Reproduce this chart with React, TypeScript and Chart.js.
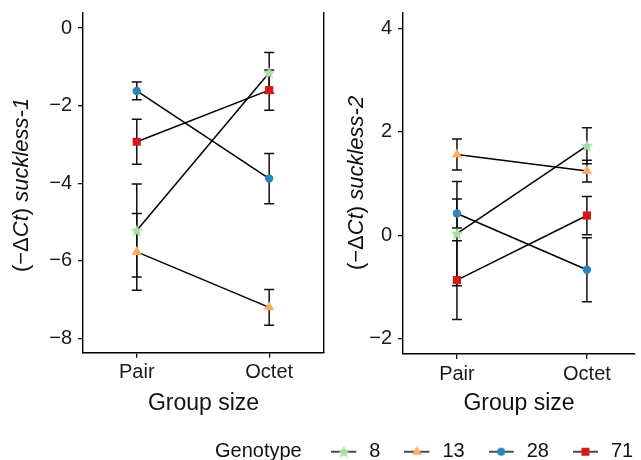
import React, { useEffect, useRef } from 'react';
import { Chart, registerables } from 'chart.js';

Chart.register(...registerables);

const FONT = "'Liberation Sans', Arial, Helvetica, sans-serif";

// ---------- data ----------
const groups = ['Pair', 'Octet'];
const genotypes = ['8', '13', '28', '71'];
const genotypeColors = ['#abdda4', '#fdae61', '#2b83ba', '#d7191c'];

// suckless-1 (means and error half-widths, Pair / Octet)
const s1Mean8 = [-5.22, -1.15];
const s1Err8 = [1.2, 0.52];
const s1Mean13 = [-5.77, -7.2];
const s1Err13 = [0.99, 0.46];
const s1Mean28 = [-1.62, -3.88];
const s1Err28 = [0.23, 0.65];
const s1Mean71 = [-2.93, -1.6];
const s1Err71 = [0.58, 0.52];

// suckless-2
const s2Mean8 = [0.03, 1.73];
const s2Err8 = [1.01, 0.35];
const s2Mean13 = [1.56, 1.24];
const s2Err13 = [0.3, 0.21];
const s2Mean28 = [0.42, -0.67];
const s2Err28 = [0.28, 0.62];
const s2Mean71 = [-0.87, 0.38];
const s2Err71 = [0.76, 0.37];

const yTicks1 = [-8, -6, -4, -2, 0];
const yTicks2 = [-2, 0, 2, 4];

const legendTitle = 'Genotype';

// ---------- marker helpers ----------
function starPath(ctx: CanvasRenderingContext2D, cx: number, cy: number, R: number, r: number) {
  ctx.beginPath();
  for (let k = 0; k < 10; k++) {
    const a = -Math.PI / 2 + (k * Math.PI) / 5;
    const rad = k % 2 === 0 ? R : r;
    const px = cx + Math.cos(a) * rad;
    const py = cy + Math.sin(a) * rad;
    if (k === 0) ctx.moveTo(px, py);
    else ctx.lineTo(px, py);
  }
  ctx.closePath();
}

function makeStarCanvas(color: string) {
  const c = document.createElement('canvas');
  c.width = 14;
  c.height = 14;
  const ctx = c.getContext('2d')!;
  ctx.fillStyle = color;
  starPath(ctx, 7, 7.4, 6.5, 3.0);
  ctx.fill();
  return c;
}

function drawShape(ctx: CanvasRenderingContext2D, shape: string, cx: number, cy: number, color: string, star: HTMLCanvasElement) {
  ctx.fillStyle = color;
  if (shape === 'star') {
    ctx.drawImage(star, cx - 7, cy - 7);
  } else if (shape === 'triangle') {
    const r = 5.8;
    ctx.beginPath();
    ctx.moveTo(cx, cy - r);
    ctx.lineTo(cx + r * Math.sin((2 * Math.PI) / 3), cy - r * Math.cos((2 * Math.PI) / 3));
    ctx.lineTo(cx + r * Math.sin((4 * Math.PI) / 3), cy - r * Math.cos((4 * Math.PI) / 3));
    ctx.closePath();
    ctx.fill();
  } else if (shape === 'circle') {
    ctx.beginPath();
    ctx.arc(cx, cy, 4, 0, Math.PI * 2);
    ctx.fill();
  } else {
    ctx.fillRect(cx - 4, cy - 4, 8, 8);
  }
}

const shapes = ['star', 'triangle', 'circle', 'rect'];
const radii = [6, 6, 4.2, 5.8];

function makeLegendSymbol(i: number, star: HTMLCanvasElement) {
  const c = document.createElement('canvas');
  c.width = 28;
  c.height = 16;
  const ctx = c.getContext('2d')!;
  ctx.strokeStyle = '#111';
  ctx.lineWidth = 1.5;
  ctx.beginPath();
  ctx.moveTo(0, 8);
  ctx.lineTo(25, 8);
  ctx.stroke();
  drawShape(ctx, shapes[i], 12.5, 8, genotypeColors[i], star);
  return c;
}

// ---------- plugins ----------
const errorBarPlugin = {
  id: 'errorBars',
  beforeDatasetsDraw(chart: any) {
    const { ctx } = chart;
    const x = chart.scales.x;
    const y = chart.scales.y;
    ctx.save();
    ctx.strokeStyle = '#111';
    ctx.lineWidth = 1.5;
    chart.data.datasets.forEach((ds: any) => {
      ds.data.forEach((pt: any, i: number) => {
        const e = ds.errors[i];
        const px = x.getPixelForValue(pt.x);
        const yt = y.getPixelForValue(pt.y + e);
        const yb = y.getPixelForValue(pt.y - e);
        ctx.beginPath();
        ctx.moveTo(px, yt);
        ctx.lineTo(px, yb);
        ctx.moveTo(px - 5, yt);
        ctx.lineTo(px + 5, yt);
        ctx.moveTo(px - 5, yb);
        ctx.lineTo(px + 5, yb);
        ctx.stroke();
      });
    });
    ctx.restore();
  },
};

const yTitlePlugin = {
  id: 'yTitle',
  afterDraw(chart: any, _args: any, opts: any) {
    const { ctx } = chart;
    const size = opts.size || 22;
    const segs: { t: string; it: boolean }[] = opts.segments || [];
    ctx.save();
    ctx.translate(opts.x, opts.y);
    ctx.rotate(-Math.PI / 2);
    ctx.fillStyle = '#111';
    ctx.textBaseline = 'middle';
    ctx.textAlign = 'left';
    let total = 0;
    const widths = segs.map((s) => {
      ctx.font = `${s.it ? 'italic ' : ''}${size}px ${FONT}`;
      const w = ctx.measureText(s.t).width;
      total += w;
      return w;
    });
    let cx = -total / 2;
    segs.forEach((s, i) => {
      ctx.font = `${s.it ? 'italic ' : ''}${size}px ${FONT}`;
      ctx.fillText(s.t, cx, 0);
      cx += widths[i];
    });
    ctx.restore();
  },
};

const fmt = (v: number) => (v < 0 ? '\u2212' + Math.abs(v) : String(v));

interface PanelSpec {
  left: number;
  width: number;
  height: number;
  yAxisWidth: number;
  padRight: number;
  padTop: number;
  xAxisHeight: number;
  rightBorder: boolean;
  xMin: number;
  xMax: number;
  yMin: number;
  yMax: number;
  yTicks: number[];
  means: number[][];
  errs: number[][];
  titleX: number;
  titleY: number;
  geneLabel: string;
}

const axisGrid = {
  display: true,
  drawOnChartArea: false,
  drawTicks: true,
  tickLength: 5,
  color: '#111',
  lineWidth: 1.3,
};
const axisBorder = { display: true, color: '#000', width: 1.4 };

function buildPanel(spec: PanelSpec, star: HTMLCanvasElement) {
  const datasets = genotypes.map((g, i) => ({
    label: g,
    data: groups.map((_, j) => ({ x: j + 1, y: spec.means[i][j] })),
    errors: spec.errs[i],
    borderColor: '#000',
    borderWidth: 1.5,
    pointStyle: shapes[i] === 'star' ? star : shapes[i],
    pointRadius: radii[i],
    pointBackgroundColor: genotypeColors[i],
    pointBorderColor: genotypeColors[i],
    pointBorderWidth: 0,
    fill: false,
    tension: 0,
  }));
  const scales: any = {
    x: {
      type: 'linear',
      position: 'bottom',
      min: spec.xMin,
      max: spec.xMax,
      afterBuildTicks: (s: any) => {
        s.ticks = groups.map((_, j) => ({ value: j + 1 }));
      },
      afterFit: (s: any) => {
        s.height = spec.xAxisHeight;
      },
      grid: axisGrid,
      border: axisBorder,
      ticks: {
        padding: 3,
        color: '#1a1a1a',
        font: { family: FONT, size: 20 },
        callback: (v: number) => groups[Math.round(v) - 1] ?? '',
        maxRotation: 0,
        autoSkip: false,
      },
      title: {
        display: true,
        text: 'Group size',
        color: '#111',
        font: { family: FONT, size: 23 },
        padding: { top: 0, bottom: 3 },
      },
    },
    y: {
      type: 'linear',
      position: 'left',
      min: spec.yMin,
      max: spec.yMax,
      afterBuildTicks: (s: any) => {
        s.ticks = spec.yTicks.map((v) => ({ value: v }));
      },
      afterFit: (s: any) => {
        s.width = spec.yAxisWidth;
      },
      grid: axisGrid,
      border: axisBorder,
      ticks: {
        padding: 6,
        color: '#1a1a1a',
        font: { family: FONT, size: 20, lineHeight: 0.7 },
        callback: (v: number) => fmt(v),
      },
    },
  };
  if (spec.rightBorder) {
    scales.yr = {
      type: 'linear',
      position: 'right',
      display: true,
      afterFit: (s: any) => {
        s.width = 0;
      },
      grid: { display: false },
      ticks: { display: false },
      border: axisBorder,
    };
  }
  return {
    type: 'line',
    data: { datasets },
    options: {
      animation: false,
      responsive: false,
      maintainAspectRatio: false,
      layout: { padding: { left: 0, right: spec.padRight, top: spec.padTop, bottom: 0 } },
      scales,
      plugins: {
        legend: { display: false },
        tooltip: { enabled: false },
        yTitle: {
          x: spec.titleX,
          y: spec.titleY,
          size: 22,
          segments: [
            { t: '(\u2212\u0394', it: false },
            { t: 'Ct', it: true },
            { t: ') ', it: false },
            { t: spec.geneLabel, it: true },
          ],
        },
      },
    },
    plugins: [errorBarPlugin, yTitlePlugin],
  };
}

const leftSpec: PanelSpec = {
  left: 0,
  width: 330,
  height: 420,
  yAxisWidth: 83,
  padRight: 5,
  padTop: 12.5,
  xAxisHeight: 67.3,
  rightBorder: true,
  xMin: 0.594,
  xMax: 2.414,
  yMin: -8.37,
  yMax: 0.39,
  yTicks: yTicks1,
  means: [s1Mean8, s1Mean13, s1Mean28, s1Mean71],
  errs: [s1Err8, s1Err13, s1Err28, s1Err71],
  titleX: 22,
  titleY: 185,
  geneLabel: 'suckless-1',
};

const rightSpec: PanelSpec = {
  left: 330,
  width: 311,
  height: 420,
  yAxisWidth: 73,
  padRight: 0,
  padTop: 12.5,
  xAxisHeight: 66,
  rightBorder: false,
  xMin: 0.585,
  xMax: 2.37,
  yMin: -2.3,
  yMax: 4.3,
  yTicks: yTicks2,
  means: [s2Mean8, s2Mean13, s2Mean28, s2Mean71],
  errs: [s2Err8, s2Err13, s2Err28, s2Err71],
  titleX: 27,
  titleY: 183,
  geneLabel: 'suckless-2',
};

function Panel({ spec }: { spec: PanelSpec }) {
  const ref = useRef<HTMLCanvasElement | null>(null);
  useEffect(() => {
    if (!ref.current) return;
    const star = makeStarCanvas(genotypeColors[0]);
    const chart = new Chart(ref.current, buildPanel(spec, star) as any);
    return () => chart.destroy();
  }, [spec]);
  return (
    <canvas
      ref={ref}
      width={spec.width}
      height={spec.height}
      style={{ position: 'absolute', left: spec.left, top: 0, width: spec.width, height: spec.height }}
    />
  );
}

function Legend() {
  const ref = useRef<HTMLCanvasElement | null>(null);
  useEffect(() => {
    if (!ref.current) return;
    const star = makeStarCanvas(genotypeColors[0]);
    const blank = document.createElement('canvas');
    blank.width = 28;
    blank.height = 2;
    const symbols = genotypes.map((_, i) => makeLegendSymbol(i, star));
    const chart = new Chart(ref.current, {
      type: 'line',
      data: {
        datasets: genotypes.map((g, i) => ({ label: g, data: [], borderColor: genotypeColors[i] })),
      },
      options: {
        animation: false,
        responsive: false,
        maintainAspectRatio: false,
        layout: { padding: { left: 153, top: 17.7, right: 0, bottom: 0 } },
        scales: { x: { display: false }, y: { display: false } },
        plugins: {
          tooltip: { enabled: false },
          legend: {
            display: true,
            position: 'top',
            align: 'start',
            labels: {
              usePointStyle: true,
              pointStyleWidth: 28,
              boxHeight: 12,
              padding: 24,
              color: '#111',
              font: { family: FONT, size: 20 },
              generateLabels: () => [
                {
                  text: legendTitle + ' ',
                  pointStyle: blank,
                  fillStyle: 'rgba(0,0,0,0)',
                  strokeStyle: 'rgba(0,0,0,0)',
                  lineWidth: 0,
                  hidden: false,
                  fontColor: '#111',
                },
                ...genotypes.map((g, i) => ({
                  text: g,
                  pointStyle: symbols[i],
                  fillStyle: genotypeColors[i],
                  strokeStyle: genotypeColors[i],
                  lineWidth: 0,
                  hidden: false,
                  datasetIndex: i,
                  fontColor: '#111',
                })),
              ],
            },
          },
        },
      },
    } as any);
    return () => chart.destroy();
  }, []);
  return (
    <canvas
      ref={ref}
      width={760}
      height={220}
      style={{ position: 'absolute', left: 0, top: 400, width: 760, height: 220 }}
    />
  );
}

export default function App() {
  return (
    <div
      style={{
        position: 'absolute',
        left: 0,
        top: 0,
        width: 641,
        height: 460,
        overflow: 'hidden',
        background: '#ffffff',
      }}
    >
      <Panel spec={leftSpec} />
      <Panel spec={rightSpec} />
      <Legend />
    </div>
  );
}
